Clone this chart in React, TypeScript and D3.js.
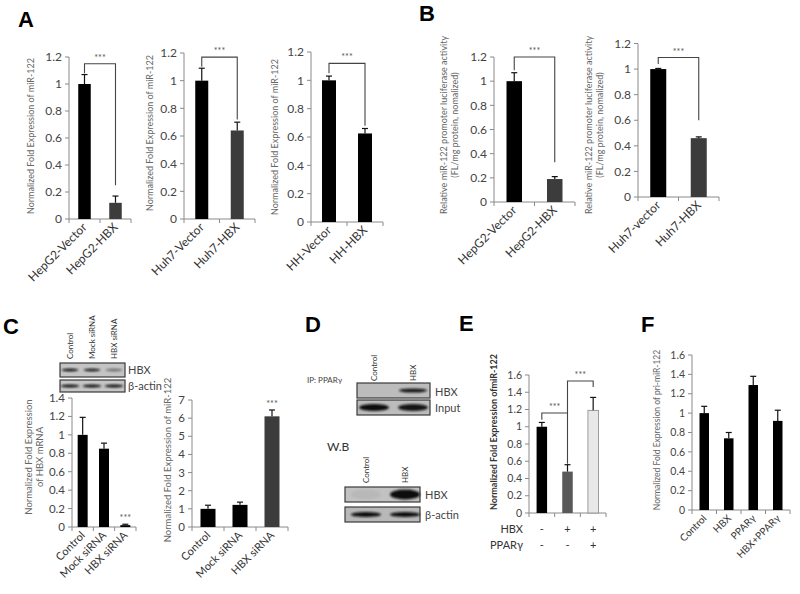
import React from "react";
import * as d3 from "d3";

const FONT = "Lato, 'Open Sans', Arial, sans-serif";

// ---------- Panel A ----------
const aCats1 = ["HepG2-Vector", "HepG2-HBX"];
const aVals1 = [1.0, 0.12];
const aErrs1 = [0.07, 0.05];
const aCats2 = ["Huh7-Vector", "Huh7-HBX"];
const aVals2 = [1.0, 0.64];
const aErrs2 = [0.09, 0.06];
const aCats3 = ["HH-Vector", "HH-HBX"];
const aVals3 = [1.0, 0.625];
const aErrs3 = [0.03, 0.035];
const aYLabel = ["Normalized Fold Expression of miR-122"];

// ---------- Panel B ----------
const bCats1 = ["HepG2-Vector", "HepG2-HBX"];
const bVals1 = [1.0, 0.19];
const bErrs1 = [0.07, 0.02];
const bCats2 = ["Huh7-vector", "Huh7-HBX"];
const bVals2 = [1.0, 0.46];
const bErrs2 = [0.005, 0.01];
const bYLabel = ["Relative miR-122 promoter luciferase activity", "(FL/mg protein, nomalized)"];

// ---------- Panel C ----------
const cCats = ["Control", "Mock siRNA", "HBX siRNA"];
const cVals1 = [1.0, 0.85, 0.02];
const cErrs1 = [0.19, 0.06, 0.01];
const cVals2 = [1.0, 1.22, 6.1];
const cErrs2 = [0.2, 0.15, 0.35];
const cBlotHBX = [0.95, 0.9, 0.45];
const cBlotActin = [1, 1, 1];

// ---------- Panel D ----------
const dLanes = ["Control", "HBX"];
const dIpHBX = [0, 0.95];
const dIpInput = [1, 0.95];
const dWbHBX = [0.05, 1];
const dWbActin = [1, 1];

// ---------- Panel E ----------
const eCats = ["g1", "g2", "g3"];
const eVals = [1.0, 0.48, 1.19];
const eErrs = [0.05, 0.08, 0.15];
const eHBX = ["-", "+", "+"];
const ePPAR = ["-", "-", "+"];

// ---------- Panel F ----------
const fCats = ["Control", "HBX", "PPARγ", "HBX+PPARγ"];
const fVals = [1.0, 0.74, 1.29, 0.92];
const fErrs = [0.07, 0.06, 0.09, 0.11];

type Bracket = { from: number; to: number; yStart: number; yTop: number; yEnd: number };

type PanelProps = {
  x0: number; x1: number; y0: number; yTop: number; yMax: number; step: number;
  cats: string[]; vals: number[]; errs: number[]; colors: string[]; strokes?: string[];
  barW: number; tickFont: number;
  ylabel: string[]; ylabelX: number[]; ylabelY: number; ylabelFont: number; ylabelBold?: boolean;
  showX?: boolean; xFont?: number;
  brackets?: Bracket[]; starsOn?: number[];
};

function BarPanel(p: PanelProps) {
  const n = p.cats.length;
  const stepPx = (p.x1 - p.x0) / n;
  const pad = 1 - p.barW / stepPx;
  const x = d3.scaleBand<string>().domain(p.cats).range([p.x0, p.x1]).paddingInner(pad).paddingOuter(pad / 2);
  const y = d3.scaleLinear().domain([0, p.yMax]).range([p.y0, p.yTop]);
  const ticks = d3.range(0, p.yMax + p.step / 2, p.step);
  const fmt = (d: number) => String(+d.toFixed(1));
  const cx = (i: number) => (x(p.cats[i]) as number) + x.bandwidth() / 2;
  const axisC = "#8a8a8a";
  return (
    <g>
      <line x1={p.x0} x2={p.x0} y1={y(0)} y2={y(p.yMax)} stroke={axisC} strokeWidth={1} />
      {ticks.map((t, i) => (
        <g key={"yt" + i}>
          <line x1={p.x0 - 4} x2={p.x0} y1={y(t)} y2={y(t)} stroke={axisC} />
          <text x={p.x0 - 7} y={y(t)} dy="0.35em" textAnchor="end" fontSize={p.tickFont} fill="#444">{fmt(t)}</text>
        </g>
      ))}
      <line x1={p.x0} x2={p.x1} y1={p.y0} y2={p.y0} stroke={axisC} />
      {d3.range(n + 1).map((k) => (
        <line key={"xt" + k} x1={p.x0 + k * stepPx} x2={p.x0 + k * stepPx} y1={p.y0} y2={p.y0 + 4} stroke={axisC} />
      ))}
      {p.cats.map((c, i) => (
        <rect key={"b" + i} x={x(c)} y={y(p.vals[i])} width={x.bandwidth()} height={p.y0 - y(p.vals[i])}
          fill={p.colors[i]} stroke={p.strokes ? p.strokes[i] : "none"} strokeWidth={p.strokes ? 0.8 : 0} />
      ))}
      {p.cats.map((c, i) => {
        const top = y(p.vals[i] + p.errs[i]);
        return (
          <g key={"e" + i} stroke="#111" strokeWidth={1.2}>
            <line x1={cx(i)} x2={cx(i)} y1={y(p.vals[i])} y2={top} />
            <line x1={cx(i) - 3} x2={cx(i) + 3} y1={top} y2={top} />
          </g>
        );
      })}
      {(p.brackets || []).map((b, i) => {
        const xl = cx(b.from), xr = cx(b.to);
        const path = `M${xl},${y(b.yStart)}V${y(b.yTop)}H${xr}V${y(b.yEnd)}`;
        return (
          <g key={"br" + i}>
            <path d={path} fill="none" stroke="#444" strokeWidth={1.1} />
            <text x={(xl + xr) / 2} y={y(b.yTop) - 3} textAnchor="middle" fontSize={9} fill="#555">***</text>
          </g>
        );
      })}
      {(p.starsOn || []).map((i) => (
        <text key={"s" + i} x={cx(i)} y={y(p.vals[i] + p.errs[i]) - 3} textAnchor="middle" fontSize={9} fill="#555">***</text>
      ))}
      {p.showX !== false && p.cats.map((c, i) => (
        <text key={"xl" + i} transform={`translate(${cx(i) + 3},${p.y0 + 9}) rotate(-45)`} textAnchor="end"
          fontSize={p.xFont || 12} fill="#333">{c}</text>
      ))}
      {p.ylabel.map((l, i) => (
        <text key={"yl" + i} transform={`translate(${p.ylabelX[i]},${p.ylabelY}) rotate(-90)`} textAnchor="middle"
          fontSize={p.ylabelFont} fill={p.ylabelBold ? "#333" : "#666"} fontWeight={p.ylabelBold ? "bold" : "normal"}>{l}</text>
      ))}
    </g>
  );
}

type BlotProps = { x: number; y: number; w: number; h: number; lanes: number[]; ints: number[]; bandW: number; bandH: number; bg?: string };

function Blot(p: BlotProps) {
  return (
    <g>
      <rect x={p.x} y={p.y} width={p.w} height={p.h} fill={p.bg || "#bdbdbd"} stroke="#3a3a3a" strokeWidth={1.2} />
      {p.lanes.map((lx, i) => p.ints[i] > 0 ? (
        <ellipse key={i} cx={lx} cy={p.y + p.h / 2} rx={p.bandW / 2} ry={p.bandH / 2} fill="#111"
          opacity={p.ints[i]} filter="url(#blur)" />
      ) : null)}
    </g>
  );
}

function PanelLetter({ x, y, t }: { x: number; y: number; t: string }) {
  return <text x={x} y={y} fontSize={22} fontWeight="bold" fontFamily="'Liberation Sans', Arial, sans-serif" fill="#000">{t}</text>;
}

export default function App() {
  const cLanes = [70, 92, 114];
  const dIpLanes = [374, 413];
  const dWbLanes = [366, 405];
  const eStep = (606 - 529) / 3;
  return (
    <div style={{ position: "absolute", left: 0, top: 0, width: 800, height: 594, background: "#fff" }}>
      <svg width={800} height={594} style={{ display: "block" }} fontFamily={FONT}>
        <defs>
          <filter id="blur" x="-20%" y="-50%" width="140%" height="200%"><feGaussianBlur stdDeviation="0.9" /></filter>
        </defs>
        <rect width={800} height={594} fill="#fff" />

        <PanelLetter x={18} y={27} t="A" />
        <PanelLetter x={419} y={21} t="B" />
        <PanelLetter x={3} y={334} t="C" />
        <PanelLetter x={305} y={332} t="D" />
        <PanelLetter x={459} y={331} t="E" />
        <PanelLetter x={641} y={332} t="F" />

        {/* Panel A */}
        <BarPanel x0={69} x1={131} y0={219} yTop={57} yMax={1.2} step={0.2} cats={aCats1} vals={aVals1} errs={aErrs1}
          colors={["#000", "#3c3c3c"]} barW={12.5} tickFont={12} ylabel={aYLabel} ylabelX={[34]} ylabelY={136} ylabelFont={9}
          brackets={[{ from: 0, to: 1, yStart: 1.08, yTop: 1.15, yEnd: 0.25 }]} />
        <BarPanel x0={184} x1={255} y0={219} yTop={53} yMax={1.2} step={0.2} cats={aCats2} vals={aVals2} errs={aErrs2}
          colors={["#000", "#3c3c3c"]} barW={13} tickFont={12} ylabel={aYLabel} ylabelX={[153]} ylabelY={133} ylabelFont={9}
          brackets={[{ from: 0, to: 1, yStart: 1.1, yTop: 1.17, yEnd: 0.72 }]} />
        <BarPanel x0={311} x1={383} y0={222} yTop={52} yMax={1.2} step={0.2} cats={aCats3} vals={aVals3} errs={aErrs3}
          colors={["#000", "#000"]} barW={14} tickFont={12} ylabel={aYLabel} ylabelX={[278]} ylabelY={137} ylabelFont={9}
          brackets={[{ from: 0, to: 1, yStart: 1.05, yTop: 1.12, yEnd: 0.68 }]} />

        {/* Panel B */}
        <BarPanel x0={494} x1={575} y0={202} yTop={57} yMax={1.2} step={0.2} cats={bCats1} vals={bVals1} errs={bErrs1}
          colors={["#000", "#3c3c3c"]} barW={15.5} tickFont={12} ylabel={bYLabel} ylabelX={[447, 458]} ylabelY={125} ylabelFont={9}
          brackets={[{ from: 0, to: 1, yStart: 1.09, yTop: 1.2, yEnd: 0.33 }]} />
        <BarPanel x0={638} x1={719} y0={197} yTop={43.5} yMax={1.2} step={0.2} cats={bCats2} vals={bVals2} errs={bErrs2}
          colors={["#000", "#3c3c3c"]} barW={16} tickFont={12} ylabel={bYLabel} ylabelX={[592, 603]} ylabelY={125} ylabelFont={9}
          brackets={[{ from: 0, to: 1, yStart: 1.04, yTop: 1.09, yEnd: 0.6 }]} />

        {/* Panel C blots */}
        {cCats.map((c, i) => (
          <text key={"cl" + i} transform={`translate(${cLanes[i] + 3},${359}) rotate(-90)`} fontSize={8} fill="#333">{c}</text>
        ))}
        <Blot x={60} y={363} w={65} h={14} lanes={cLanes} ints={cBlotHBX} bandW={17} bandH={3} bg="#c4c4c4" />
        <Blot x={60} y={380} w={65} h={12} lanes={cLanes} ints={cBlotActin} bandW={19} bandH={3} bg="#c4c4c4" />
        <text x={128} y={374} fontSize={11} fill="#444">HBX</text>
        <text x={128} y={390} fontSize={11} fill="#444">β-actin</text>

        {/* Panel C charts */}
        <BarPanel x0={72} x1={136} y0={527} yTop={398} yMax={1.4} step={0.2} cats={cCats} vals={cVals1} errs={cErrs1}
          colors={["#000", "#000", "#000"]} barW={10} tickFont={11.5} ylabel={["Normalized Fold Expression", "of HBX mRNA"]}
          ylabelX={[32, 43]} ylabelY={457} ylabelFont={9.5} xFont={11} starsOn={[2]} />
        <BarPanel x0={192} x1={288} y0={527} yTop={400} yMax={7} step={1} cats={cCats} vals={cVals2} errs={cErrs2}
          colors={["#000", "#000", "#3c3c3c"]} barW={15} tickFont={11.5} ylabel={["Normalized Fold Expression of miR-122"]}
          ylabelX={[171]} ylabelY={460} ylabelFont={9.5} xFont={11} starsOn={[2]} />

        {/* Panel D */}
        <text x={307} y={383} fontSize={8} fill="#444">IP: PPARγ</text>
        {dLanes.map((l, i) => (
          <text key={"dl" + i} transform={`translate(${dIpLanes[i] + 3},${381}) rotate(-90)`} fontSize={8} fill="#333">{l}</text>
        ))}
        <Blot x={357} y={383} w={73} h={15} lanes={dIpLanes} ints={dIpHBX} bandW={28} bandH={4} bg="#bcbcbc" />
        <Blot x={357} y={400} w={73} h={15} lanes={dIpLanes} ints={dIpInput} bandW={30} bandH={7} bg="#bcbcbc" />
        <text x={435} y={396} fontSize={11} fill="#444">HBX</text>
        <text x={435} y={412} fontSize={11} fill="#444">Input</text>

        <text x={327} y={451} fontSize={12} fill="#333">W.B</text>
        {dLanes.map((l, i) => (
          <text key={"dw" + i} transform={`translate(${dWbLanes[i] + 3},${483}) rotate(-90)`} fontSize={8} fill="#333">{l}</text>
        ))}
        <Blot x={345} y={487} w={75} h={15} lanes={dWbLanes} ints={dWbHBX} bandW={30} bandH={10} bg="#c2c2c2" />
        <Blot x={345} y={507} w={75} h={15} lanes={dWbLanes} ints={dWbActin} bandW={30} bandH={5} bg="#b8b8b8" />
        <text x={425} y={499} fontSize={11} fill="#444">HBX</text>
        <text x={425} y={519} fontSize={11} fill="#444">β-actin</text>

        {/* Panel E */}
        <BarPanel x0={529} x1={606} y0={513} yTop={375} yMax={1.6} step={0.2} cats={eCats} vals={eVals} errs={eErrs}
          colors={["#000", "#595959", "#e8e8e8"]} strokes={["none", "none", "#888"]} barW={10.5} tickFont={10.5}
          ylabel={["Normalized Fold Expression ofmiR-122"]} ylabelX={[497]} ylabelY={432} ylabelFont={9} ylabelBold showX={false}
          brackets={[{ from: 0, to: 1, yStart: 1.08, yTop: 1.16, yEnd: 0.57 }, { from: 1, to: 2, yStart: 1.16, yTop: 1.53, yEnd: 1.46 }]} />
        <text x={523} y={533} textAnchor="end" fontSize={11} fill="#333">HBX</text>
        <text x={523} y={549} textAnchor="end" fontSize={11} fill="#333">PPARγ</text>
        {eHBX.map((s, i) => (
          <text key={"eh" + i} x={529 + eStep * (i + 0.5)} y={533} textAnchor="middle" fontSize={11} fill="#333">{s}</text>
        ))}
        {ePPAR.map((s, i) => (
          <text key={"ep" + i} x={529 + eStep * (i + 0.5)} y={549} textAnchor="middle" fontSize={11} fill="#333">{s}</text>
        ))}

        {/* Panel F */}
        <BarPanel x0={692} x1={790} y0={510} yTop={355} yMax={1.6} step={0.2} cats={fCats} vals={fVals} errs={fErrs}
          colors={["#000", "#000", "#000", "#000"]} barW={9.5} tickFont={10.5}
          ylabel={["Normalized Fold Expression of pri-miR-122"]} ylabelX={[660]} ylabelY={430} ylabelFont={8.5} xFont={10} />
      </svg>
    </div>
  );
}
